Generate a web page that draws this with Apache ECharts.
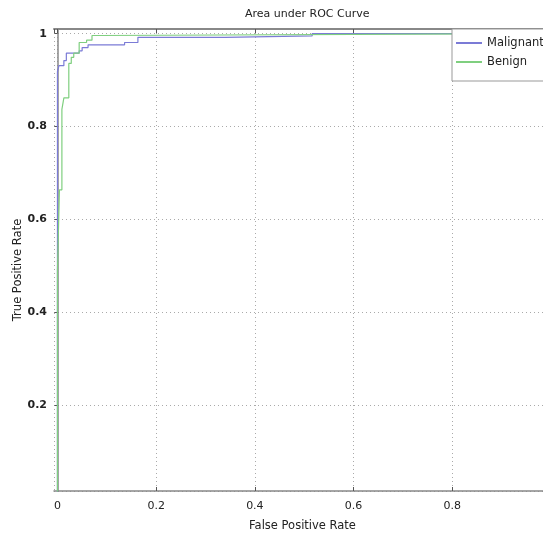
<!DOCTYPE html>
<html>
<head>
<meta charset="utf-8">
<script src="https://cdn.jsdelivr.net/npm/echarts@6/dist/echarts.min.js"></script>
<style>
  html, body { margin: 0; padding: 0; background: #fff; }
  #chart { width: 543px; height: 537px; }
</style>
</head>
<body>
<div id="chart"></div>
<script>
// ROC curve vertices
var malignantFpr = [0, 0, 0.003, 0.003, 0.013, 0.013, 0.018, 0.018, 0.044, 0.044, 0.05, 0.05, 0.062, 0.062, 0.136, 0.136, 0.163, 0.163, 0.339, 0.339, 0.516, 0.516, 1];
var malignantTpr = [0, 0.918, 0.918, 0.931, 0.931, 0.942, 0.942, 0.958, 0.958, 0.963, 0.963, 0.970, 0.970, 0.976, 0.976, 0.981, 0.981, 0.992, 0.992, 0.995, 0.995, 1, 1];
var benignFpr = [0, 0, 0.004, 0.004, 0.009, 0.009, 0.013, 0.013, 0.023, 0.023, 0.028, 0.028, 0.033, 0.033, 0.044, 0.044, 0.059, 0.059, 0.07, 0.07, 0.084, 0.084, 1];
var benignTpr = [0, 0.49, 0.49, 0.664, 0.664, 0.837, 0.837, 0.862, 0.862, 0.936, 0.936, 0.949, 0.949, 0.958, 0.958, 0.981, 0.981, 0.986, 0.986, 0.996, 0.996, 1, 1];

function pairs(xs, ys) {
  return xs.map(function (x, i) { return [x, ys[i]]; });
}

var font = 'DejaVu Sans';
var gridLine = { show: true, lineStyle: { color: '#aaa', type: [1, 3], width: 1 } };
var chart = echarts.init(document.getElementById('chart'));

var option = {
  backgroundColor: '#fff',
  animation: false,
  title: {
    text: 'Area under ROC Curve',
    left: 240,
    top: 4,
    textStyle: { fontFamily: font, fontSize: 11, fontWeight: 'normal', color: '#222' }
  },
  legend: {
    orient: 'vertical',
    left: 452,
    top: 29,
    padding: [8, 10, 13, 3],
    itemWidth: 26,
    itemHeight: 12,
    itemGap: 7,
    borderColor: '#999',
    borderWidth: 1,
    borderRadius: 0,
    backgroundColor: '#fff',
    itemStyle: { opacity: 0 },
    textStyle: { fontFamily: font, fontSize: 11.5, color: '#222' },
    data: ['Malignant', 'Benign']
  },
  grid: { left: 54, right: -8, top: 29, bottom: 46, containLabel: false, outerBoundsMode: 'none' },
  xAxis: [{
    type: 'value',
    min: -0.007,
    max: 1,
    name: 'False Positive Rate',
    nameLocation: 'middle',
    nameGap: 29,
    nameTextStyle: { fontFamily: font, fontSize: 11.5, color: '#222' },
    axisLine: { lineStyle: { color: '#888', width: 1.5 } },
    axisTick: { inside: true, length: 4, lineStyle: { color: '#555' } },
    axisLabel: { showMinLabel: false, showMaxLabel: false, margin: 10, fontFamily: font, fontSize: 11, color: '#222' },
    splitLine: gridLine
  }, {
    type: 'value',
    position: 'top',
    min: -0.007,
    max: 1,
    axisLine: { show: true, lineStyle: { color: '#888', width: 2 } },
    axisTick: { show: true, inside: true, length: 4, lineStyle: { color: '#555' } },
    axisLabel: { show: false },
    splitLine: { show: false }
  }],
  yAxis: {
    type: 'value',
    min: 0.016,
    max: 1.01,
    name: 'True Positive Rate',
    nameLocation: 'middle',
    nameGap: 30,
    nameMoveOverlap: false,
    nameTextStyle: { fontFamily: font, fontSize: 11.5, color: '#222', padding: [0, 20, 0, 0] },
    axisLine: { show: true, lineStyle: { color: '#888', width: 1.5 } },
    axisTick: { show: true, length: 3, lineStyle: { color: '#555' } },
    axisLabel: { showMinLabel: false, showMaxLabel: false, margin: 7, fontFamily: font, fontSize: 11, fontWeight: 'bold', color: '#222' },
    splitLine: gridLine
  },
  series: [{
    name: 'Malignant',
    type: 'line',
    symbol: 'none',
    data: pairs(malignantFpr, malignantTpr),
    lineStyle: { color: '#7b7bd6', width: 1.2 },
    itemStyle: { color: '#7b7bd6' }
  }, {
    name: 'Benign',
    type: 'line',
    symbol: 'none',
    data: pairs(benignFpr, benignTpr),
    lineStyle: { color: '#7fcf7f', width: 1.2 },
    itemStyle: { color: '#7fcf7f' }
  }]
};

chart.setOption(option);
</script>
</body>
</html>
